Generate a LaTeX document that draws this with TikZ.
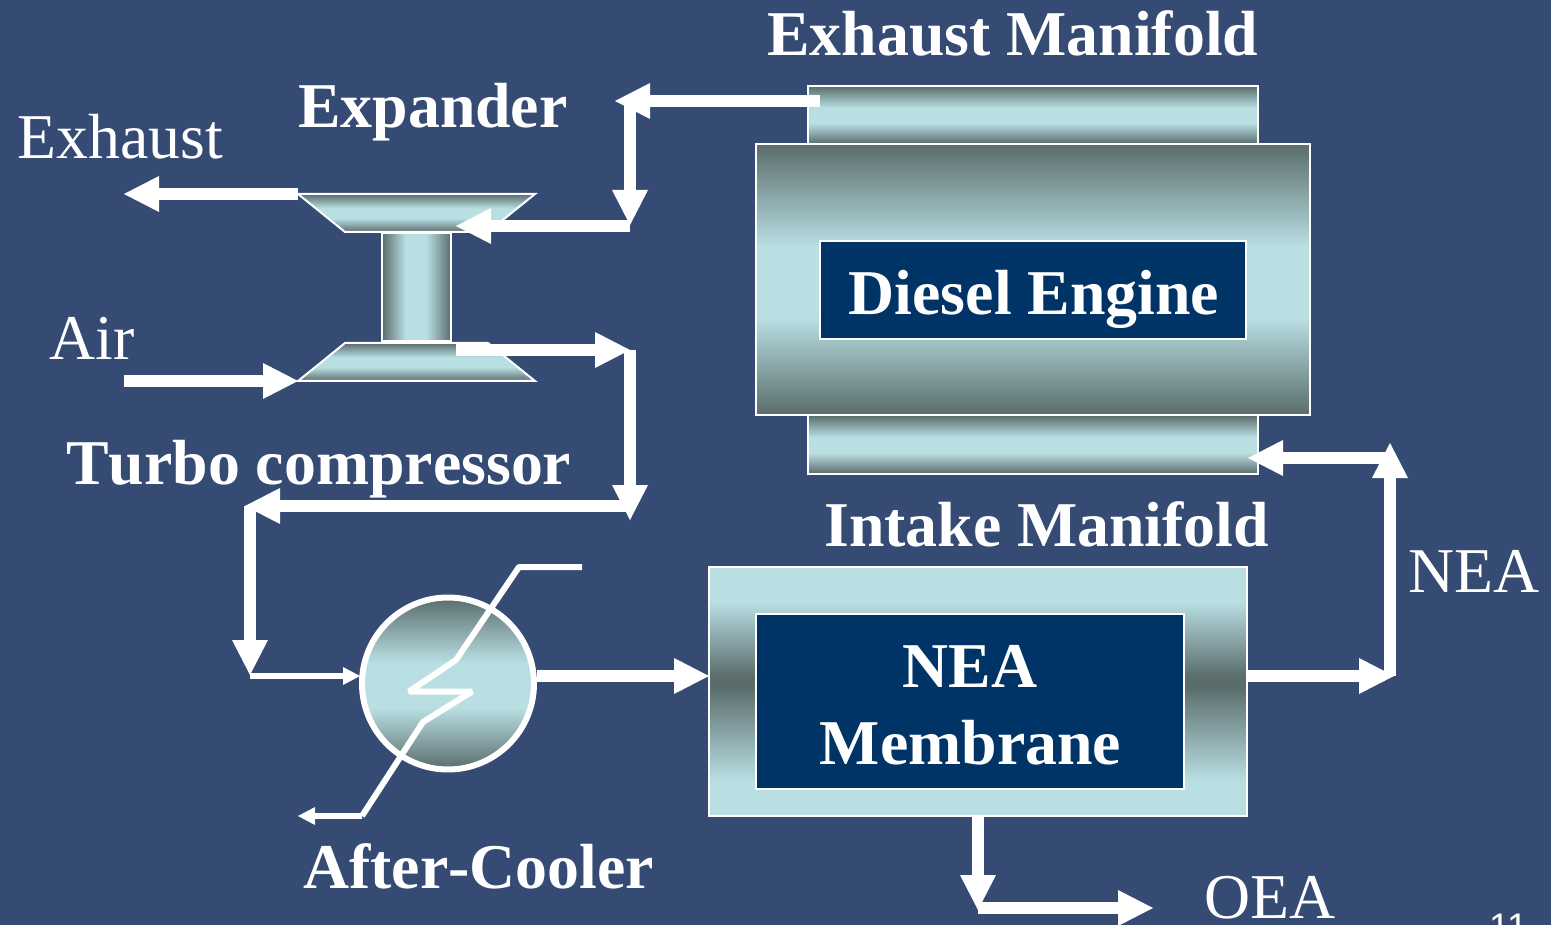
\documentclass[tikz,border=0pt]{standalone}
\usepackage{fontspec}
\setmainfont[Kerning=Off]{Liberation Serif}
\newfontfamily\pagenumfont{Liberation Sans}
\usetikzlibrary{arrows.meta}
\definecolor{bgblue}{HTML}{354B73}
\definecolor{navy}{HTML}{003366}
\definecolor{lite}{HTML}{B9DFE3}
\definecolor{dark}{HTML}{5A6C6C}
\pgfdeclareverticalshading{metalv}{100bp}{color(0bp)=(dark); color(25bp)=(dark); color(43bp)=(lite); color(56bp)=(lite); color(75bp)=(dark); color(100bp)=(dark)}
\pgfdeclarehorizontalshading{metalh}{100bp}{color(0bp)=(dark); color(25bp)=(dark); color(42bp)=(lite); color(57bp)=(lite); color(75bp)=(dark); color(100bp)=(dark)}
\pgfdeclareverticalshading{metalinv}{100bp}{color(0bp)=(lite); color(25bp)=(lite); color(32bp)=(lite); color(51bp)=(dark); color(53bp)=(dark); color(68bp)=(lite); color(75bp)=(lite); color(100bp)=(lite)}
\tikzset{
  x=1pt,y=-1pt,
  bar/.style={draw=white,line width=2pt,inner sep=0pt,outer sep=0pt,shading=metalv},
  invbar/.style={draw=white,line width=2pt,inner sep=0pt,outer sep=0pt,shading=metalinv},
  navybox/.style={draw=white,line width=2pt,fill=navy,inner sep=0pt,outer sep=0pt},
  flow/.style={draw=white,line width=12pt,-{Triangle[length=35pt,width=36pt,line width=0pt,fill=white]}},
  thinflow/.style={draw=white,line width=6pt,-{Triangle[length=17pt,width=18pt,line width=0pt,fill=white]}},
  thinpipe/.style={draw=white,line width=6pt,line join=bevel},
  boldlabel/.style={text=white,anchor=base west,inner sep=0pt,font=\fontsize{63.8}{70}\selectfont\bfseries},
  pluslabel/.style={text=white,anchor=base west,inner sep=0pt,font=\fontsize{63.8}{70}\selectfont},
}
\begin{document}
\begin{tikzpicture}
\path[use as bounding box,fill=bgblue] (0,0) rectangle (1551,925);

% engine block
\node[bar,minimum width=450pt,minimum height=58pt] (exman) at (1033,115) {};
\node[bar,minimum width=450pt,minimum height=59pt] (inman) at (1033,444.5) {};
\node[bar,minimum width=554pt,minimum height=271pt] (engine) at (1033,279.5) {};
\node[navybox,minimum width=426pt,minimum height=98pt] (diesel) at (1033,290) {};
\node[boldlabel,anchor=base] (dieseltext) at (1034,315) {Diesel Engine};

% membrane
\node[invbar,minimum width=538pt,minimum height=249pt] (membox) at (978,691.5) {};
\node[navybox,minimum width=428pt,minimum height=175pt] (memcore) at (970,701.5) {};
\node[boldlabel,anchor=base] (memone) at (970,687) {NEA};
\node[boldlabel,anchor=base] (memtwo) at (970.5,764) {Membrane};

% turbo
\coordinate (etl) at (298,194); \coordinate (etr) at (535,194);
\coordinate (ebr) at (488,232); \coordinate (ebl) at (345,232);
\coordinate (ctl) at (345,343); \coordinate (ctr) at (488,343);
\coordinate (cbr) at (535,381); \coordinate (cbl) at (298,381);
\path[draw=white,line width=2pt,line join=miter,shading=metalv] (etl) -- (etr) -- (ebr) -- (ebl) -- cycle;
\path[draw=white,line width=2pt,line join=miter,shading=metalv] (ctl) -- (ctr) -- (cbr) -- (cbl) -- cycle;
\node[draw=white,line width=2pt,inner sep=0pt,outer sep=0pt,shading=metalh,minimum width=69pt,minimum height=108pt] (shaft) at (416.5,287) {};

% cooler
\node[circle,draw=white,line width=6pt,inner sep=0pt,outer sep=0pt,minimum size=172pt,shading=metalv] (cooler) at (448,683.5) {};
\coordinate (ca) at (582,567); \coordinate (cb) at (519,567); \coordinate (cc) at (456,660);
\coordinate (cd) at (409,691.5); \coordinate (ce) at (472,691.5); \coordinate (cf) at (423,722);
\coordinate (cg) at (362,816); \coordinate (ch) at (298,816);
\draw[thinpipe] (ca) -- (cb) -- (cc) -- (cd) -- (ce) -- (cf) -- (cg);
\draw[thinflow] (cg) -- (ch);

% main flow junctions
\coordinate (mstart) at (820,101); \coordinate (mtip) at (615,101);
\coordinate (j1) at (630,101); \coordinate (j2) at (630,225);
\coordinate (j2b) at (630,226); \coordinate (etip) at (456,226);
\coordinate (exs) at (298,194); \coordinate (ext) at (124,194);
\coordinate (airs) at (124,381); \coordinate (airt) at (298,381);
\coordinate (cs) at (456,350); \coordinate (ct) at (630,350);
\coordinate (j3) at (630,350); \coordinate (j4) at (630,520);
\coordinate (j5) at (630,506); \coordinate (j6) at (245,506);
\coordinate (j7) at (250,506); \coordinate (j8) at (250,675);
\coordinate (j9) at (250,676); \coordinate (j10) at (360,676);
\coordinate (co) at (537,676); \coordinate (mi) at (709,676);
\coordinate (mo) at (1247,676); \coordinate (k1) at (1394,676);
\coordinate (k2) at (1390,676); \coordinate (k3) at (1390,443);
\coordinate (k4) at (1390,458); \coordinate (k5) at (1248,458);
\coordinate (o1) at (978,816); \coordinate (o2) at (978,910);
\coordinate (o3) at (978,908); \coordinate (o4) at (1153,908);

\draw[flow] (mstart) -- (mtip);
\draw[flow] (j1) -- (j2);
\draw[flow] (j2b) -- (etip);
\draw[flow] (exs) -- (ext);
\draw[flow] (airs) -- (airt);
\draw[flow] (cs) -- (ct);
\draw[flow] (j3) -- (j4);
\draw[flow] (j5) -- (j6);
\draw[flow] (j7) -- (j8);
\draw[thinflow] (j9) -- (j10);
\draw[flow] (co) -- (mi);
\draw[flow] (mo) -- (k1);
\draw[flow] (k2) -- (k3);
\draw[flow] (k4) -- (k5);
\draw[flow] (o1) -- (o2);
\draw[flow] (o3) -- (o4);

% labels
\node[boldlabel] (lexman) at (767,56) {Exhaust Manifold};
\node[boldlabel] (lexp) at (298,128) {Expander};
\node[pluslabel] (lexh) at (17.5,159) {Exhaust};
\node[pluslabel] (lair) at (49.5,360) {Air};
\node[boldlabel] (lturbo) at (66,484) {Turbo compressor};
\node[boldlabel] (lintake) at (824,546) {Intake Manifold};
\node[pluslabel] (lnea) at (1408,592) {NEA};
\node[boldlabel] (lafter) at (303,888) {After-Cooler};
\node[pluslabel] (loea) at (1204,918) {OEA};
\node[text=white,anchor=base west,inner sep=0pt,font=\fontsize{37}{40}\selectfont\pagenumfont] (pnum) at (1489,939) {11};
\end{tikzpicture}
\end{document}
